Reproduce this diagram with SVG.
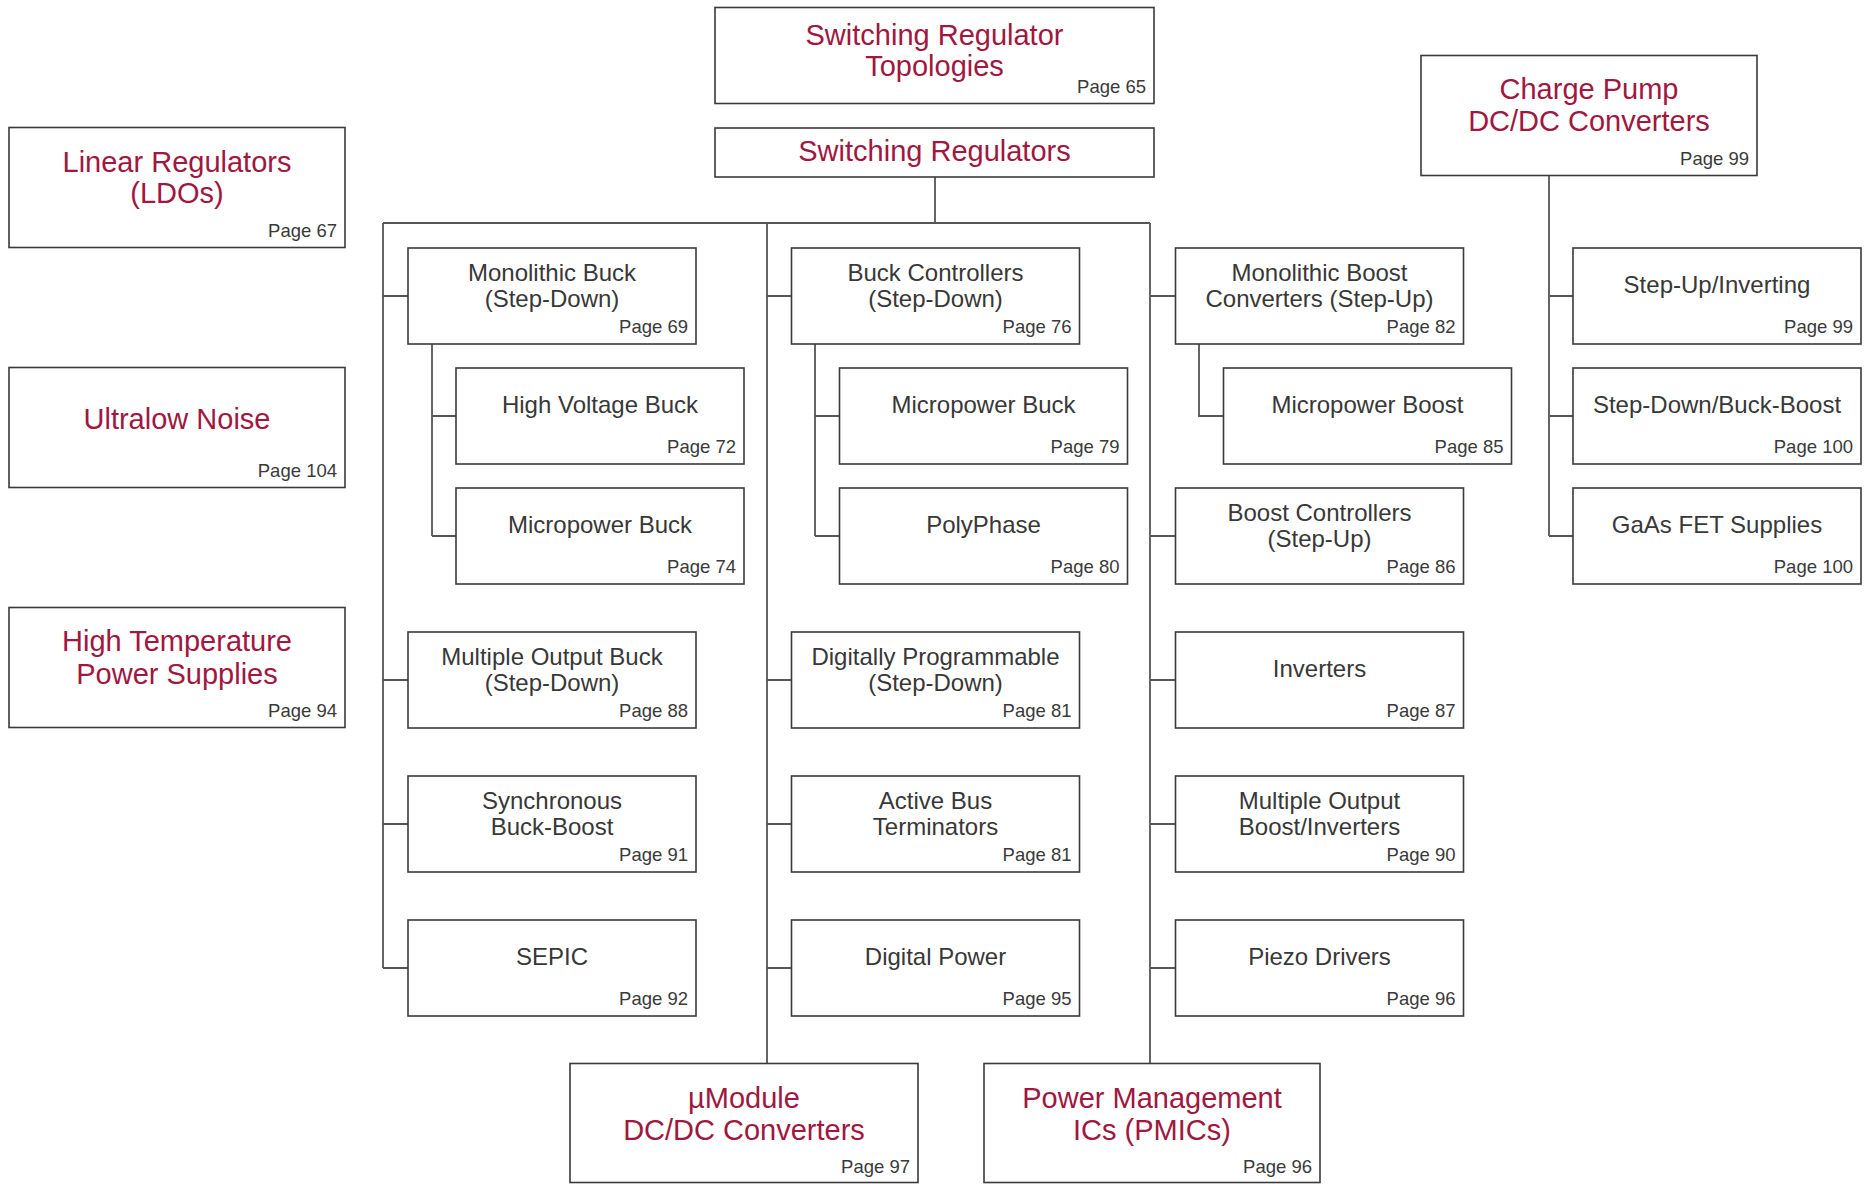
<svg xmlns="http://www.w3.org/2000/svg" width="1871" height="1184" viewBox="0 0 1871 1184">
<style>
  .box { fill: #ffffff; stroke: #3a3a3a; stroke-width: 1.6; }
  .con { fill: none; stroke: #555555; stroke-width: 1.8; }
  .red { font-family: "Liberation Sans", Arial, sans-serif; font-size: 29px; fill: #a0173f; text-anchor: middle; }
  .blk { font-family: "Liberation Sans", Arial, sans-serif; font-size: 24px; fill: #383838; text-anchor: middle; }
  .pg { font-family: "Liberation Sans", Arial, sans-serif; font-size: 18.5px; fill: #3a3a3a; text-anchor: end; }
</style>
<rect width="1871" height="1184" fill="#ffffff"/>

<g id="connectors">
  <path class="con" d="M935,177 V223 M383,223 H1150 M383,223 V968 M767,223 V1064 M1150,223 V1064"/>
  <path class="con" d="M383,296 H408 M383,680 H408 M383,824 H408 M383,968 H408"/>
  <path class="con" d="M432,344 V536 M432,416 H456 M432,536 H456"/>
  <path class="con" d="M767,296 H791 M767,680 H791 M767,824 H791 M767,968 H791"/>
  <path class="con" d="M815,344 V536 M815,416 H839 M815,536 H839"/>
  <path class="con" d="M1150,296 H1175 M1150,536 H1175 M1150,680 H1175 M1150,824 H1175 M1150,968 H1175"/>
  <path class="con" d="M1199,344 V416 H1223"/>
  <path class="con" d="M1549,176 V536 M1549,296 H1573 M1549,416 H1573 M1549,536 H1573"/>
</g>

<g id="topologies">
  <rect class="box" x="715" y="7.5" width="439" height="96"/>
  <text class="red" x="934.5" y="44.5">Switching Regulator</text>
  <text class="red" x="934.5" y="75.5">Topologies</text>
  <text class="pg" x="1146" y="93">Page 65</text>
</g>
<g id="switching-regulators">
  <rect class="box" x="715" y="128" width="439" height="49"/>
  <text class="red" x="934.5" y="161">Switching Regulators</text>
</g>

<g id="linear-regulators">
  <rect class="box" x="9" y="127.5" width="336" height="120"/>
  <text class="red" x="177" y="171.5">Linear Regulators</text>
  <text class="red" x="177" y="203">(LDOs)</text>
  <text class="pg" x="337" y="237">Page 67</text>
</g>
<g id="ultralow-noise">
  <rect class="box" x="9" y="367.5" width="336" height="120"/>
  <text class="red" x="177" y="428.5">Ultralow Noise</text>
  <text class="pg" x="337" y="477">Page 104</text>
</g>
<g id="high-temperature">
  <rect class="box" x="9" y="607.5" width="336" height="120"/>
  <text class="red" x="177" y="651">High Temperature</text>
  <text class="red" x="177" y="683.5">Power Supplies</text>
  <text class="pg" x="337" y="717">Page 94</text>
</g>
<g id="charge-pump">
  <rect class="box" x="1421" y="55.5" width="336" height="120"/>
  <text class="red" x="1589" y="98.5">Charge Pump</text>
  <text class="red" x="1589" y="131">DC/DC Converters</text>
  <text class="pg" x="1749" y="165">Page 99</text>
</g>

<!-- Column 1 -->
<g id="monolithic-buck">
  <rect class="box" x="408" y="248" width="288" height="96"/>
  <text class="blk" x="552" y="281">Monolithic Buck</text>
  <text class="blk" x="552" y="307">(Step-Down)</text>
  <text class="pg" x="688" y="333">Page 69</text>
</g>
<g id="high-voltage-buck">
  <rect class="box" x="456" y="368" width="288" height="96"/>
  <text class="blk" x="600" y="413">High Voltage Buck</text>
  <text class="pg" x="736" y="453">Page 72</text>
</g>
<g id="micropower-buck-1">
  <rect class="box" x="456" y="488" width="288" height="96"/>
  <text class="blk" x="600" y="533">Micropower Buck</text>
  <text class="pg" x="736" y="573">Page 74</text>
</g>
<g id="multiple-output-buck">
  <rect class="box" x="408" y="632" width="288" height="96"/>
  <text class="blk" x="552" y="665">Multiple Output Buck</text>
  <text class="blk" x="552" y="691">(Step-Down)</text>
  <text class="pg" x="688" y="717">Page 88</text>
</g>
<g id="synchronous-buck-boost">
  <rect class="box" x="408" y="776" width="288" height="96"/>
  <text class="blk" x="552" y="809">Synchronous</text>
  <text class="blk" x="552" y="835">Buck-Boost</text>
  <text class="pg" x="688" y="861">Page 91</text>
</g>
<g id="sepic">
  <rect class="box" x="408" y="920" width="288" height="96"/>
  <text class="blk" x="552" y="965">SEPIC</text>
  <text class="pg" x="688" y="1005">Page 92</text>
</g>

<!-- Column 2 -->
<g id="buck-controllers">
  <rect class="box" x="791.5" y="248" width="288" height="96"/>
  <text class="blk" x="935.5" y="281">Buck Controllers</text>
  <text class="blk" x="935.5" y="307">(Step-Down)</text>
  <text class="pg" x="1071.5" y="333">Page 76</text>
</g>
<g id="micropower-buck-2">
  <rect class="box" x="839.5" y="368" width="288" height="96"/>
  <text class="blk" x="983.5" y="413">Micropower Buck</text>
  <text class="pg" x="1119.5" y="453">Page 79</text>
</g>
<g id="polyphase">
  <rect class="box" x="839.5" y="488" width="288" height="96"/>
  <text class="blk" x="983.5" y="533">PolyPhase</text>
  <text class="pg" x="1119.5" y="573">Page 80</text>
</g>
<g id="digitally-programmable">
  <rect class="box" x="791.5" y="632" width="288" height="96"/>
  <text class="blk" x="935.5" y="665">Digitally Programmable</text>
  <text class="blk" x="935.5" y="691">(Step-Down)</text>
  <text class="pg" x="1071.5" y="717">Page 81</text>
</g>
<g id="active-bus-terminators">
  <rect class="box" x="791.5" y="776" width="288" height="96"/>
  <text class="blk" x="935.5" y="809">Active Bus</text>
  <text class="blk" x="935.5" y="835">Terminators</text>
  <text class="pg" x="1071.5" y="861">Page 81</text>
</g>
<g id="digital-power">
  <rect class="box" x="791.5" y="920" width="288" height="96"/>
  <text class="blk" x="935.5" y="965">Digital Power</text>
  <text class="pg" x="1071.5" y="1005">Page 95</text>
</g>

<!-- Column 3 -->
<g id="monolithic-boost">
  <rect class="box" x="1175.5" y="248" width="288" height="96"/>
  <text class="blk" x="1319.5" y="281">Monolithic Boost</text>
  <text class="blk" x="1319.5" y="307">Converters (Step-Up)</text>
  <text class="pg" x="1455.5" y="333">Page 82</text>
</g>
<g id="micropower-boost">
  <rect class="box" x="1223.5" y="368" width="288" height="96"/>
  <text class="blk" x="1367.5" y="413">Micropower Boost</text>
  <text class="pg" x="1503.5" y="453">Page 85</text>
</g>
<g id="boost-controllers">
  <rect class="box" x="1175.5" y="488" width="288" height="96"/>
  <text class="blk" x="1319.5" y="521">Boost Controllers</text>
  <text class="blk" x="1319.5" y="547">(Step-Up)</text>
  <text class="pg" x="1455.5" y="573">Page 86</text>
</g>
<g id="inverters">
  <rect class="box" x="1175.5" y="632" width="288" height="96"/>
  <text class="blk" x="1319.5" y="677">Inverters</text>
  <text class="pg" x="1455.5" y="717">Page 87</text>
</g>
<g id="multiple-output-boost">
  <rect class="box" x="1175.5" y="776" width="288" height="96"/>
  <text class="blk" x="1319.5" y="809">Multiple Output</text>
  <text class="blk" x="1319.5" y="835">Boost/Inverters</text>
  <text class="pg" x="1455.5" y="861">Page 90</text>
</g>
<g id="piezo-drivers">
  <rect class="box" x="1175.5" y="920" width="288" height="96"/>
  <text class="blk" x="1319.5" y="965">Piezo Drivers</text>
  <text class="pg" x="1455.5" y="1005">Page 96</text>
</g>

<!-- Charge pump children -->
<g id="step-up-inverting">
  <rect class="box" x="1573" y="248" width="288" height="96"/>
  <text class="blk" x="1717" y="293">Step-Up/Inverting</text>
  <text class="pg" x="1853" y="333">Page 99</text>
</g>
<g id="step-down-buck-boost">
  <rect class="box" x="1573" y="368" width="288" height="96"/>
  <text class="blk" x="1717" y="413">Step-Down/Buck-Boost</text>
  <text class="pg" x="1853" y="453">Page 100</text>
</g>
<g id="gaas-fet-supplies">
  <rect class="box" x="1573" y="488" width="288" height="96"/>
  <text class="blk" x="1717" y="533">GaAs FET Supplies</text>
  <text class="pg" x="1853" y="573">Page 100</text>
</g>

<!-- Bottom -->
<g id="umodule">
  <rect class="box" x="570" y="1063.5" width="348" height="119"/>
  <text class="red" x="744" y="1107.5">µModule</text>
  <text class="red" x="744" y="1140">DC/DC Converters</text>
  <text class="pg" x="910" y="1173">Page 97</text>
</g>
<g id="pmic">
  <rect class="box" x="984" y="1063.5" width="336" height="119"/>
  <text class="red" x="1152" y="1107.5">Power Management</text>
  <text class="red" x="1152" y="1140">ICs (PMICs)</text>
  <text class="pg" x="1312" y="1173">Page 96</text>
</g>
</svg>
